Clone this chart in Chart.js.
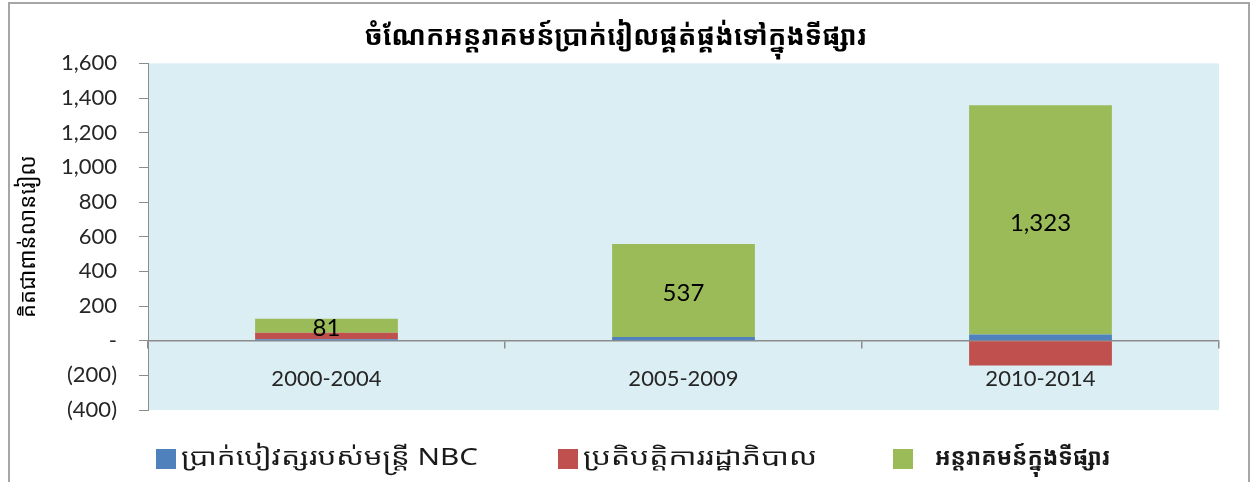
<!DOCTYPE html>
<html>
<head>
<meta charset="utf-8">
<script src="https://cdn.jsdelivr.net/npm/chart.js@4"></script>
<style>
html,body{margin:0;padding:0;background:#fff;}
#wrap{width:1251px;height:482px;position:relative;}
</style>
</head>
<body>
<div id="wrap"><canvas id="c" width="1251" height="482"></canvas></div>
<script>
const categories = ['2000-2004', '2005-2009', '2010-2014'];
const seriesNames = ['ប្រាក់បៀវត្សរបស់មន្ត្រី NBC', 'ប្រតិបត្តិការរដ្ឋាភិបាល', 'អន្តរាគមន៍ក្នុងទីផ្សារ'];
const nbcSalaries = [8, 21, 36];
const govOperations = [38, 0, -143];
const marketIntervention = [81, 537, 1323];
const yTicks = [-400, -200, 0, 200, 400, 600, 800, 1000, 1200, 1400, 1600];
const titleText = 'ចំណែកអន្តរាគមន៍ប្រាក់រៀលផ្គត់ផ្គង់ទៅក្នុងទីផ្សារ';
const yTitleText = 'គិតជាពាន់លានរៀល';

const khmer = '"Noto Sans Khmer","Khmer OS","Noto Sans","DejaVu Sans",sans-serif';
const latin = 'Lato,"Open Sans",sans-serif';
const colors = ['#4F81BD', '#C0504D', '#9BBB59'];

// legend layout (pixel positions of boxes and text)
const legendLayout = [
  {box: 156, text: 181, width: 297, bold: false},
  {box: 558, text: 583, width: 234, bold: false},
  {box: 893, text: 935, width: 175, bold: true}
];

function fmt(v){
  if (v === 0) return '-';
  const s = Math.abs(v).toLocaleString('en-US');
  return v < 0 ? '(' + s + ')' : s;
}

const bgPlugin = {
  id: 'bg',
  beforeDraw(chart){
    const {ctx, chartArea:a} = chart;
    ctx.save();
    ctx.fillStyle = '#DBEEF4';
    ctx.fillRect(a.left, a.top, a.right - a.left, a.bottom - a.top);
    ctx.restore();
  },
  afterDraw(chart){
    const ctx = chart.ctx;
    ctx.save();
    ctx.strokeStyle = '#a6a6a6';
    ctx.lineWidth = 2;
    ctx.strokeRect(9, 3, 1240, 520);
    // legend
    chart.data.datasets.forEach((ds, i) => {
      const L = legendLayout[i];
      ctx.fillStyle = ds.backgroundColor;
      ctx.fillRect(L.box, 449, 20, 20);
      ctx.font = (L.bold ? 'bold ' : '') + '23px ' + khmer;
      ctx.fillStyle = '#1a1a1a';
      ctx.textBaseline = 'middle';
      ctx.textAlign = 'left';
      const w = ctx.measureText(ds.label).width;
      const sx = L.width / w;
      ctx.save();
      ctx.translate(L.text, 458);
      ctx.scale(sx, 1);
      ctx.fillText(ds.label, 0, 0);
      ctx.restore();
    });
    ctx.restore();
  }
};

const labelPlugin = {
  id: 'vals',
  afterDatasetsDraw(chart){
    const ctx = chart.ctx;
    const meta = chart.getDatasetMeta(2);
    ctx.save();
    ctx.font = '24px ' + latin;
    ctx.fillStyle = '#000';
    ctx.textAlign = 'center';
    ctx.textBaseline = 'middle';
    meta.data.forEach((bar, i) => {
      const v = marketIntervention[i];
      const y = (bar.y + bar.base) / 2 + 3;
      ctx.fillText(v.toLocaleString('en-US'), bar.x, y);
    });
    ctx.restore();
  }
};

new Chart(document.getElementById('c'), {
  type: 'bar',
  data: {
    labels: categories,
    datasets: [
      {label: seriesNames[0], data: nbcSalaries, backgroundColor: colors[0]},
      {label: seriesNames[1], data: govOperations, backgroundColor: colors[1]},
      {label: seriesNames[2], data: marketIntervention, backgroundColor: colors[2]}
    ]
  },
  options: {
    responsive: false,
    animation: false,
    devicePixelRatio: 1,
    barPercentage: 0.4,
    categoryPercentage: 1,
    layout: {padding: {left: 12, right: 32, top: 0, bottom: 72}},
    plugins: {
      title: {
        display: true,
        text: titleText,
        color: '#000',
        font: {family: khmer, size: 27, weight: 'bold'},
        padding: {top: 21, bottom: 10}
      },
      legend: {display: false},
      tooltip: {enabled: false}
    },
    scales: {
      x: {
        stacked: true,
        position: {y: 0},
        grid: {offset: true, drawOnChartArea: false, drawTicks: true, tickLength: 7, color: '#8c8c8c', lineWidth: 1.5},
        border: {display: true, color: '#8c8c8c', width: 1.5},
        ticks: {color: '#262626', font: {family: latin, size: 22}, padding: 18}
      },
      y: {
        stacked: true,
        min: -400,
        max: 1600,
        afterBuildTicks(scale){ scale.ticks = yTicks.map(v => ({value: v})); },
        afterFit(scale){ scale.width = 136; },
        grid: {drawOnChartArea: false, drawTicks: true, tickLength: 9, color: '#8c8c8c'},
        border: {display: true, color: '#8c8c8c', width: 1},
        ticks: {color: '#262626', font: {family: latin, size: 22}, padding: 22, callback: v => fmt(v)},
        title: {display: true, text: yTitleText, color: '#000', font: {family: khmer, size: 22}, padding: {top: 4, bottom: 0}}
      }
    }
  },
  plugins: [bgPlugin, labelPlugin]
});
</script>
</body>
</html>
